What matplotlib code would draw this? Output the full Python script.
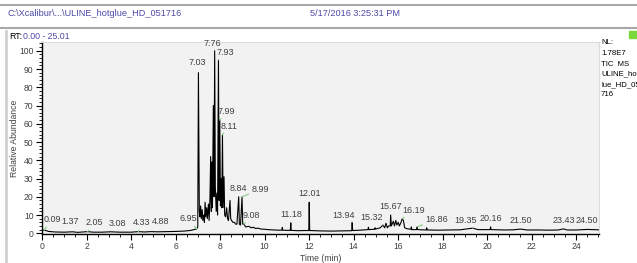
#!/usr/bin/env python

"""
redraw the Xcalibur TIC chromatogram (ULINE hotglue) as out.png
"""

import matplotlib
matplotlib.use('Agg')
import matplotlib.pyplot as plt
from matplotlib.ticker import MultipleLocator

plt.rcParams['font.family'] = ['Liberation Sans', 'DejaVu Sans']

###### trace vertices ######
rt_min = [0.00, 0.09, 0.30, 0.60, 1.00, 1.37, 1.60, 2.05, 2.30, 2.70,
          3.08, 3.50, 4.00, 4.33, 4.60, 4.88, 5.20, 5.60, 6.00, 6.40,
          6.70, 6.95, 7.00, 7.03, 7.05, 7.07, 7.10, 7.13, 7.16, 7.20,
          7.23, 7.27, 7.30, 7.33, 7.36, 7.40, 7.43, 7.48, 7.51, 7.55,
          7.58, 7.61, 7.63, 7.66, 7.70, 7.73, 7.76, 7.79, 7.83, 7.86,
          7.89, 7.93, 7.96, 7.99, 8.02, 8.06, 8.08, 8.11, 8.14, 8.18,
          8.21, 8.25, 8.30, 8.34, 8.38, 8.45, 8.48, 8.52, 8.58, 8.65,
          8.70, 8.76, 8.84, 8.87, 8.92, 8.99, 9.02, 9.08, 9.15, 9.30,
          9.40, 9.50, 9.60, 9.70, 9.85, 10.00, 10.15, 10.30, 10.45, 10.60,
          10.78, 10.80, 10.82, 11.00, 11.16, 11.18, 11.20, 11.50, 11.80, 11.99,
          12.01, 12.03, 12.50, 13.00, 13.50, 13.92, 13.94, 13.96, 14.30, 14.65,
          14.67, 14.69, 14.95, 14.97, 14.99, 15.20, 15.32, 15.40, 15.46, 15.52,
          15.58, 15.65, 15.67, 15.70, 15.79, 15.84, 15.90, 15.95, 16.01, 16.06,
          16.12, 16.19, 16.24, 16.30, 16.40, 16.58, 16.60, 16.62, 16.84, 16.86,
          16.88, 17.27, 17.29, 17.31, 17.80, 18.30, 18.80, 19.35, 19.60, 20.00,
          20.14, 20.16, 20.18, 20.80, 21.20, 21.50, 21.80, 22.30, 22.80, 23.20,
          23.43, 23.60, 24.00, 24.50, 25.01]
abundance = [1.5, 1.8, 1.0, 0.7, 0.6, 0.8, 0.5, 0.9, 0.6, 0.6,
             0.8, 0.6, 0.6, 0.9, 0.7, 0.9, 0.8, 0.9, 1.0, 1.2,
             1.6, 2.4, 3.5, 88, 45, 12, 9, 15, 8, 13,
             7, 10, 6, 17, 9, 14, 8, 16, 7, 20,
             42, 12, 39, 14, 70, 20, 100, 25, 12, 22,
             10, 95, 18, 62, 15, 30, 14, 54, 14, 31,
             10, 9, 14, 8, 7, 18, 8, 7, 6, 6,
             5, 5, 20, 5, 4.5, 20, 5, 5, 3.5, 3.8,
             3.0, 3.3, 2.6, 2.8, 2.3, 2.2, 2.0, 1.9, 1.8, 1.7,
             1.7, 3.2, 1.7, 1.6, 1.6, 5.7, 1.6, 1.4, 1.5, 1.5,
             17, 1.5, 1.3, 1.2, 1.3, 1.4, 6, 1.5, 1.7, 2.0,
             3.3, 2.0, 2.2, 3.0, 2.3, 3.0, 4.5, 3.0, 5.5, 3.0,
             4.0, 4.0, 10, 4.0, 6.6, 4.0, 7.0, 4.5, 6.0, 4.0,
             5.5, 8.0, 7.0, 3.0, 2.5, 2.2, 3.5, 2.0, 2.0, 3.5,
             2.0, 1.8, 3.0, 1.8, 1.7, 1.8, 1.9, 2.8, 2.0, 2.0,
             2.0, 3.5, 2.0, 1.8, 1.9, 2.3, 1.8, 1.8, 1.7, 1.8,
             2.4, 1.8, 1.8, 2.1, 1.9]

###### labelled peaks ######
peak_rt = [0.09, 1.37, 2.05, 3.08, 4.33, 4.88, 6.95, 7.03, 7.76, 7.93,
           7.99, 8.11, 8.84, 8.99, 9.08, 11.18, 12.01, 13.94, 15.32, 15.67,
           16.19, 16.86, 19.35, 20.16, 21.50, 23.43, 24.50]
peak_height = [1.8, 0.8, 0.9, 0.8, 0.9, 0.9, 2.4, 88, 100, 95,
               62, 54, 20, 20, 5, 5.7, 17, 6, 4.5, 10,
               8, 3.5, 2.8, 3.5, 2.3, 2.4, 2.1]
# label offset in points, and whether a green leader is drawn
label_dx = [6, -2, 5, 5, 2, 7, -6, -1, -2, 5, 5, 5, 0, 13, 5, 0, 0, -6, -8, 0, 8, 14, -5, 0, 0, 0, 0]
label_dy = [4, 4, 3, 3, 3, 4, 4, 4, 2, 2, 3, 3, 3, 2, 3, 3, 3, 2, 2, 3, 3, 2, 2, 3, 3, 3, 3]
leader = [1, 0, 1, 0, 1, 0, 1, 0, 0, 1, 1, 1, 0, 1, 1, 0, 0, 1, 1, 0, 1, 1, 1, 0, 0, 0, 0]

side_text = ['NL:', '1.78E7', 'TIC  MS', 'ULINE_hotg', 'lue_HD_05', '716']

BLUE = '#4a4aa8'
GREEN = '#8fd08f'
GREY = '#404040'


def main():
    fig = plt.figure(figsize=(6.37, 2.63), dpi=100)
    W, H = 637.0, 263.0

    ###### header band ######
    for py in (5, 28):
        fig.add_artist(plt.Line2D([0, 1], [1 - py / H] * 2, color='#a8a8a8', lw=1.5))
    fig.add_artist(plt.Line2D([6 / W] * 2, [0, 1 - 31 / H], color='#d0d0d0', lw=2))
    fig.text(8 / W, 1 - 13 / H, r'C:\Xcalibur\...\ULINE_hotglue_HD_051716',
             color=BLUE, fontsize=6.6, va='center')
    fig.text(310 / W, 1 - 13 / H, '5/17/2016 3:25:31 PM', color=BLUE, fontsize=6.6, va='center')
    fig.text(9 / W, 1 - 36 / H, 'RT:', color='black', fontsize=6.3, va='center')
    fig.text(23 / W, 1 - 36 / H, '0.00 - 25.01', color=BLUE, fontsize=6.3, va='center')
    fig.add_artist(plt.Rectangle((629 / W, 1 - 38 / H), 8 / W, 7 / H, color='#78d83c'))

    for i, s in enumerate(side_text):
        fig.text(601 / W, 1 - (43 + i * 10.0 + (2 if i > 1 else 0)) / H, s,
                 fontsize=5.6, color='black', va='center')

    ###### chromatogram ######
    ax = fig.add_axes([42 / W, 29 / H, 556.5 / W, 192 / H])
    ax.set_facecolor('#f2f2f2')
    ax.plot(rt_min, abundance, color='black', lw=0.8)
    ax.set_xlim(0, 25.01)
    ax.set_ylim(-0.4, 104.8)

    for t, h, dx, dy, ld in zip(peak_rt, peak_height, label_dx, label_dy, leader):
        arrow = dict(arrowstyle='-', color=GREEN, lw=0.9, shrinkA=0, shrinkB=0) if ld else None
        ax.annotate('%.2f' % t, xy=(t, h), xytext=(dx, dy), textcoords='offset points',
                    ha='center', va='bottom', fontsize=6.5, color=GREY, arrowprops=arrow)

    ax.xaxis.set_major_locator(MultipleLocator(2))
    ax.xaxis.set_minor_locator(MultipleLocator(0.5))
    ax.yaxis.set_major_locator(MultipleLocator(10))
    ax.yaxis.set_minor_locator(MultipleLocator(2))
    ax.tick_params(which='both', direction='out', color='black', labelsize=6.2, labelcolor=GREY)
    ax.tick_params(which='major', length=4, width=0.8, pad=2)
    ax.tick_params(which='minor', length=2, width=0.6)
    for side in ('top', 'right'):
        ax.spines[side].set_color('#dcdcdc')
    for side in ('left', 'bottom'):
        ax.spines[side].set_linewidth(1.0)

    ax.set_xlabel('Time (min)', fontsize=6.2, color=GREY, labelpad=2)
    ax.set_ylabel('Relative Abundance', fontsize=6.2, color=GREY)
    ax.yaxis.set_label_coords(-23 / 556.5, 0.5)

    fig.savefig('out.png', dpi=100, facecolor='w')


if __name__ == "__main__":
    main()
